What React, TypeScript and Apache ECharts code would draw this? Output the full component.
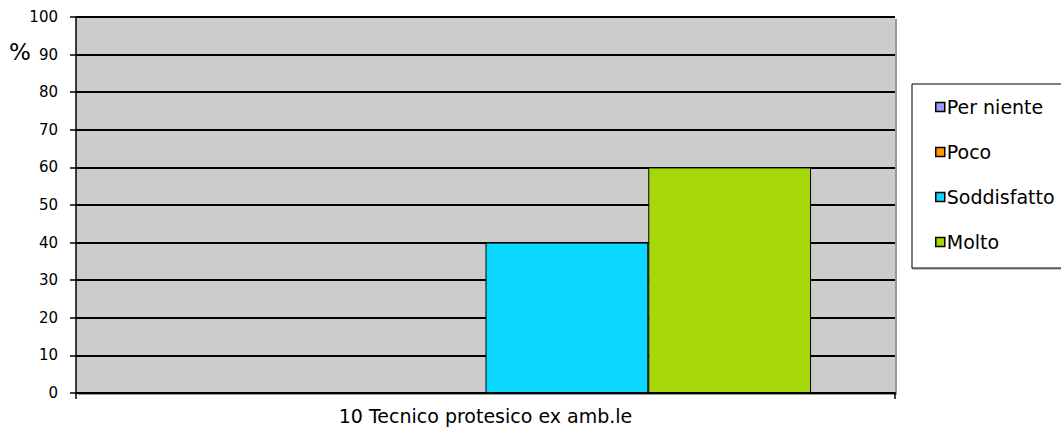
import React, { useEffect, useRef } from "react";
import * as echarts from "echarts";

const categories = ["10 Tecnico protesico ex amb.le"];
const seriesNames = ["Per niente", "Poco", "Soddisfatto", "Molto"];
const perNiente = [0];
const poco = [0];
const soddisfatto = [40];
const molto = [60];
const colors = ["#9999FF", "#FF9900", "#0AD8FF", "#A5D70A"];
const yMin = 0;
const yMax = 100;
const yInterval = 10;

export default function App() {
  const ref = useRef<HTMLDivElement>(null);
  useEffect(() => {
    if (!ref.current) return;
    const chart = echarts.init(ref.current, null, { renderer: "svg" });
    const values = [perNiente, poco, soddisfatto, molto];
    const font = "DejaVu Sans, Verdana, sans-serif";
    chart.setOption({
      animation: false,
      textStyle: { fontFamily: font },
      grid: {
        left: 76,
        top: 17,
        right: 166,
        bottom: 35,
        show: true,
        backgroundColor: "#CCCCCC",
        borderWidth: 0,
        shadowColor: "#999",
        shadowOffsetX: 2,
        shadowOffsetY: 2,
        shadowBlur: 0,
      },
      graphic: [
        {
          type: "rect",
          shape: { x: 912, y: 84, width: 220, height: 184 },
          style: { fill: "#fff", stroke: "#000", lineWidth: 1, shadowColor: "#888", shadowOffsetY: 1, shadowBlur: 0 },
          z: 0,
        },
        {
          type: "text",
          left: 9,
          top: 40,
          style: { text: "%", font: "23px " + font, fill: "#000" },
        },
      ],
      legend: {
        orient: "vertical",
        left: 930,
        top: 92,
        itemWidth: 9,
        itemHeight: 9,
        itemGap: 25,
        icon: "rect",
        itemStyle: { borderColor: "#000", borderWidth: 1.5 },
        textStyle: { fontSize: 19, color: "#000", fontFamily: font, padding: [0, 0, 0, -3], lineHeight: 20 },
        data: seriesNames,
        z: 5,
      },
      xAxis: {
        type: "category",
        data: categories,
        axisLine: { lineStyle: { color: "#000", width: 2 } },
        axisTick: { show: true, length: 6, lineStyle: { color: "#000", width: 1.5 } },
        axisLabel: { fontSize: 19, color: "#000", margin: 13, fontFamily: font },
      },
      yAxis: {
        type: "value",
        min: yMin,
        max: yMax,
        interval: yInterval,
        axisLine: { show: true, lineStyle: { color: "#000", width: 1.5 } },
        axisTick: { show: true, length: 6, lineStyle: { color: "#000", width: 1.5 } },
        axisLabel: { fontSize: 15, color: "#000", margin: 18, fontFamily: font },
        splitLine: { show: true, lineStyle: { color: "#000", width: 2 } },
      },
      series: seriesNames.map((name, i) => ({
        name,
        type: "bar",
        data: values[i],
        barGap: "0%",
        barCategoryGap: "20.5%",
        itemStyle: { color: colors[i], borderColor: "#000", borderWidth: 1 },
      })),
    });
    return () => chart.dispose();
  }, []);
  return <div ref={ref} style={{ width: 1061, height: 428, position: "absolute", left: 0, top: 0 }} />;
}
